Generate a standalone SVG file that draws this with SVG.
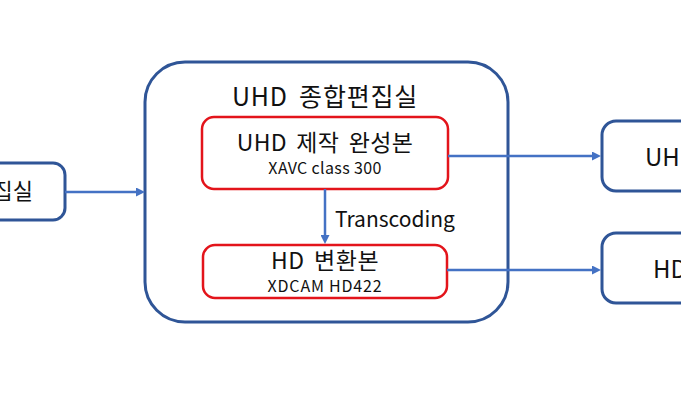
<svg xmlns="http://www.w3.org/2000/svg" width="681" height="400" viewBox="0 0 681 400">
<style>
.box{fill:#fff;stroke:#2F5597;stroke-width:3}
.red{fill:#fff;stroke:#E3141B;stroke-width:2.5}
.t{font-family:"Malgun Gothic","Noto Sans CJK KR",sans-serif;fill:#111}
.conn{stroke:#4472C4;stroke-width:2.5;fill:none;marker-end:url(#ah)}
</style>
<defs>
<marker id="ah" viewBox="0 0 10 10" refX="5" refY="5" markerWidth="9" markerHeight="9" markerUnits="userSpaceOnUse" orient="auto">
<path d="M0,0 L10,5 L0,10 z" fill="#4472C4"/>
</marker>
</defs>
<rect width="681" height="400" fill="#fff"/>
<g id="left-node">
<rect class="box" x="-60" y="163" width="125" height="57" rx="12"/>
<text class="t" x="33" y="199" font-size="22" text-anchor="end">집실</text>
</g>
<g id="uhd-suite">
<rect class="box" x="145" y="62" width="363" height="260" rx="40"/>
<text class="t" x="325" y="106" font-size="25" text-anchor="middle" word-spacing="5" letter-spacing="0.8">UHD 종합편집실</text>
</g>
<g id="uhd-master">
<rect class="red" x="202" y="117" width="246" height="72" rx="12"/>
<text class="t" x="325" y="151" font-size="23" text-anchor="middle" word-spacing="4" letter-spacing="0.3">UHD 제작 완성본</text>
<text class="t" x="325" y="174" font-size="16" text-anchor="middle" letter-spacing="0.35">XAVC class 300</text>
</g>
<g id="hd-version">
<rect class="red" x="203" y="245" width="244" height="53" rx="12"/>
<text class="t" x="325" y="269" font-size="23" text-anchor="middle" word-spacing="4" letter-spacing="0.5">HD 변환본</text>
<text class="t" x="325" y="292" font-size="16" text-anchor="middle" letter-spacing="0.8">XDCAM HD422</text>
</g>
<g id="uhd-out">
<rect class="box" x="602" y="121" width="140" height="70" rx="14"/>
<text class="t" x="645" y="166" font-size="24">UHD</text>
</g>
<g id="hd-out">
<rect class="box" x="602" y="233" width="140" height="70" rx="14"/>
<text class="t" x="653" y="278" font-size="24">HD</text>
</g>
<g id="connectors">
<line class="conn" x1="65" y1="192" x2="140.5" y2="192"/>
<line class="conn" x1="448" y1="156" x2="596.5" y2="156"/>
<line class="conn" x1="447" y1="270" x2="596.5" y2="270"/>
<line class="conn" x1="325" y1="189" x2="325" y2="239.5"/>
<text class="t" x="335" y="227" font-size="21">Transcoding</text>
</g>
</svg>
